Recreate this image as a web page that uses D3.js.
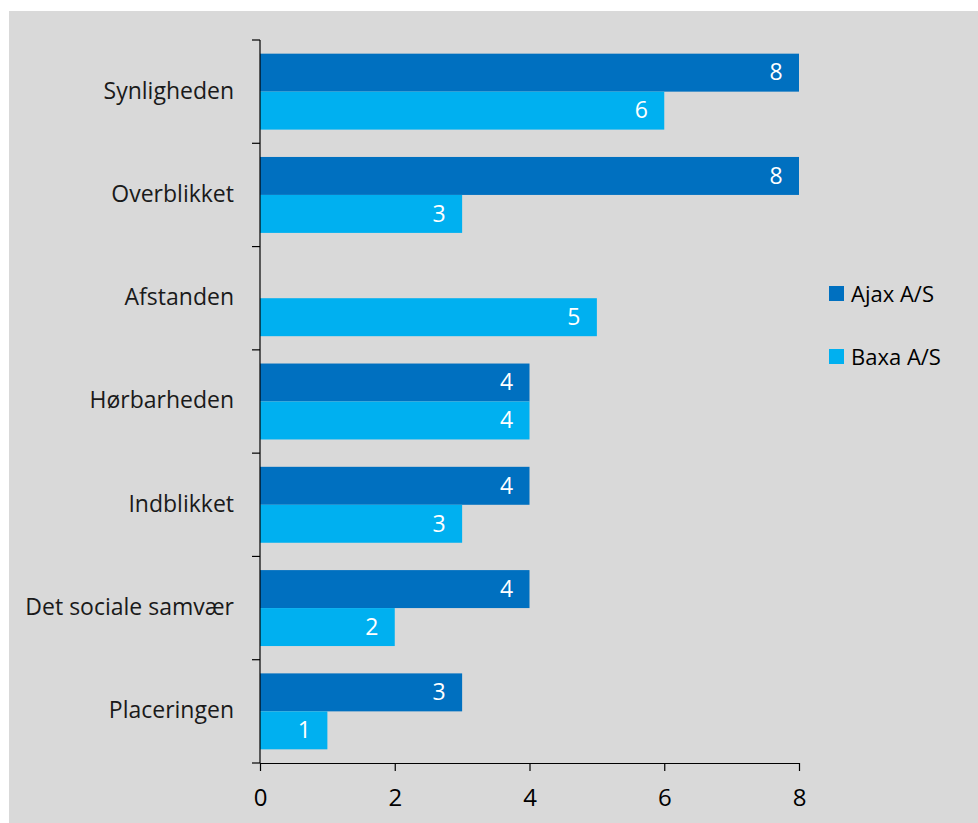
<!DOCTYPE html>
<html>
<head>
<meta charset="utf-8">
<script src="https://cdn.jsdelivr.net/npm/d3@7"></script>
<style>
  html, body { margin: 0; padding: 0; background: #ffffff; }
  svg { display: block; }
  text { font-family: "Open Sans", "Noto Sans", sans-serif; }
</style>
</head>
<body>
<svg id="chart" width="978" height="823"></svg>
<script>
// Survey categories and counts for each company
const categories = ["Synligheden", "Overblikket", "Afstanden", "Hørbarheden", "Indblikket", "Det sociale samvær", "Placeringen"];
const ajaxValues = [8, 8, null, 4, 4, 4, 3];
const baxaValues = [6, 3, 5, 4, 3, 2, 1];
const seriesNames = ["Ajax A/S", "Baxa A/S"];
const seriesColors = ["#0070C0", "#00B0F0"];
const xTicks = [0, 2, 4, 6, 8];

const svg = d3.select("#chart");

// panel background
svg.append("rect")
  .attr("x", 9).attr("y", 11)
  .attr("width", 969).attr("height", 812)
  .attr("fill", "#D9D9D9");

const plot = { left: 260, right: 799, top: 40, bottom: 763 };

const x = d3.scaleLinear().domain([0, 8]).range([plot.left, plot.right]);
const y = d3.scaleBand().domain(categories).range([plot.top, plot.bottom]).paddingInner(0).paddingOuter(0);
const inner = d3.scaleBand().domain(seriesNames).range([0, y.bandwidth()]).paddingInner(0).paddingOuter(0.36);

const rows = categories.map((c, i) => ({
  category: c,
  values: [ajaxValues[i], baxaValues[i]]
}));

const groups = svg.append("g").selectAll("g")
  .data(rows).join("g")
  .attr("transform", d => `translate(0,${y(d.category)})`);

const bars = groups.selectAll("g.bar")
  .data(d => d.values.map((v, k) => ({ v, k })).filter(e => e.v != null))
  .join("g").attr("class", "bar");

bars.append("rect")
  .attr("x", x(0))
  .attr("y", d => inner(seriesNames[d.k]))
  .attr("width", d => x(d.v) - x(0))
  .attr("height", inner.bandwidth())
  .attr("fill", d => seriesColors[d.k]);

bars.append("text")
  .attr("x", d => x(d.v) - 23)
  .attr("y", d => inner(seriesNames[d.k]) + inner.bandwidth() / 2)
  .attr("dy", "0.34em")
  .attr("text-anchor", "middle")
  .attr("fill", "#ffffff")
  .attr("font-size", 23)
  .text(d => d.v);

// y axis: category ticks at band boundaries, pointing left
const yAxis = svg.append("g");
yAxis.append("line")
  .attr("x1", plot.left).attr("x2", plot.left)
  .attr("y1", plot.top).attr("y2", plot.bottom)
  .attr("stroke", "#000").attr("stroke-width", 1.2);
const boundaries = categories.map(c => y(c)).concat([plot.bottom]);
yAxis.selectAll("line.tick")
  .data(boundaries).join("line").attr("class", "tick")
  .attr("x1", plot.left - 8).attr("x2", plot.left)
  .attr("y1", d => d).attr("y2", d => d)
  .attr("stroke", "#000").attr("stroke-width", 1.2);
yAxis.selectAll("text")
  .data(categories).join("text")
  .attr("x", plot.left - 26)
  .attr("y", d => y(d) + y.bandwidth() / 2)
  .attr("dy", "0.3em")
  .attr("text-anchor", "end")
  .attr("font-size", 23)
  .attr("fill", "#1a1a1a")
  .text(d => d);

// x axis
const xAxis = svg.append("g")
  .attr("transform", `translate(0,${plot.bottom})`)
  .call(d3.axisBottom(x).tickValues(xTicks).tickSize(8).tickPadding(18).tickSizeOuter(0));
xAxis.select(".domain").attr("stroke", "#000").attr("stroke-width", 1.2);
xAxis.selectAll(".tick line").attr("stroke", "#000").attr("stroke-width", 1.2);
xAxis.selectAll(".tick text")
  .attr("font-size", 24)
  .attr("fill", "#000")
  .attr("font-family", "'Open Sans', 'Noto Sans', sans-serif");

// legend
const legend = svg.append("g").attr("transform", "translate(829,286)");
const legendItems = legend.selectAll("g")
  .data(seriesNames).join("g")
  .attr("transform", (d, i) => `translate(0,${i * 63})`);
legendItems.append("rect")
  .attr("width", 15).attr("height", 15)
  .attr("fill", (d, i) => seriesColors[i]);
legendItems.append("text")
  .attr("x", 22).attr("y", 8)
  .attr("dy", "0.36em")
  .attr("font-size", 22)
  .attr("fill", "#000")
  .text(d => d);
</script>
</body>
</html>
